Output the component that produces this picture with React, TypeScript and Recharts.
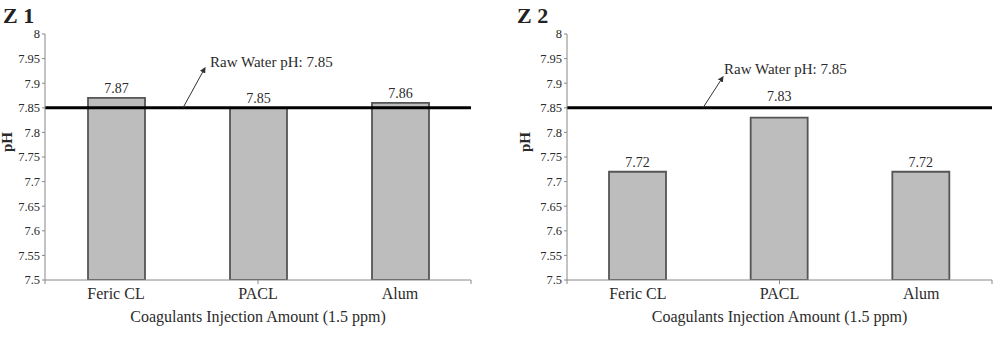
import React from "react"
import { BarChart, Bar, XAxis, YAxis, ReferenceLine, LabelList } from "recharts"

const categories = ["Feric CL", "PACL", "Alum"]
const z1Values = [7.87, 7.85, 7.86]
const z2Values = [7.72, 7.83, 7.72]
const yTicks = [7.5, 7.55, 7.6, 7.65, 7.7, 7.75, 7.8, 7.85, 7.9, 7.95, 8]
const boundaryTicks = [0, 1, 2, 3]
const rawWaterPh = 7.85

const FONT = "Liberation Serif, serif"
const TEXT = "#2b2b2b"

function RawWaterLabel({ viewBox, startX, dx, dy, textDx, textDy, id }: any) {
  if (!viewBox) return null
  const x0 = viewBox.x + startX
  const y0 = viewBox.y
  const x1 = x0 + dx
  const y1 = y0 + dy
  return (
    <g>
      <defs>
        <marker id={id} markerWidth="6" markerHeight="6" refX="5" refY="3" orient="auto">
          <path d="M0,0 L6,3 L0,6 z" fill="#333" />
        </marker>
      </defs>
      <line x1={x0} y1={y0} x2={x1} y2={y1} stroke="#333" strokeWidth={1} markerEnd={`url(#${id})`} />
      <text x={x1 + textDx} y={y1 + textDy} fill={TEXT} fontFamily={FONT} fontSize={15} dominantBaseline="middle">
        Raw Water pH: 7.85
      </text>
    </g>
  )
}

function PhLabel({ viewBox, dx }: any) {
  if (!viewBox) return null
  const x = viewBox.x + dx
  const y = viewBox.y + viewBox.height / 2 - 15
  return (
    <text x={x} y={y} transform={`rotate(-90 ${x} ${y})`} textAnchor="middle" dominantBaseline="middle" fill={TEXT} fontFamily={FONT} fontSize={15} fontWeight="bold">
      pH
    </text>
  )
}

// value label above each bar, lifted above the raw-water line when they would collide
function ValueLabel({ x, y, width, value, lineY }: any) {
  let cy = y - 8
  if (y > lineY && cy - lineY < 9) cy = lineY - 10
  return (
    <text x={x + width / 2} y={cy} textAnchor="middle" dominantBaseline="middle" fill={TEXT} fontFamily={FONT} fontSize={14}>
      {value}
    </text>
  )
}

function EdgeTick({ x, y }: any) {
  return <line x1={x} y1={y} x2={x} y2={y + 4} stroke="#888" />
}

function PhChart({ values, yWidth, right, arrow, id }: any) {
  const data = categories.map((c, i) => ({ name: c, ph: values[i] }))
  const lineY = 34 + ((8 - rawWaterPh) / 0.5) * 246
  return (
    <BarChart width={500} height={338} data={data} margin={{ top: 34, right, left: 0, bottom: 0 }}>
      {/* small marks between categories */}
      <XAxis
        xAxisId="edges"
        type="number"
        domain={[0, 3]}
        ticks={boundaryTicks}
        interval={0}
        allowDataOverflow
        height={1}
        axisLine={false}
        tickLine={false}
        tickSize={0}
        tickMargin={0}
        tick={(p: any) => <EdgeTick x={p.x} y={280} />}
      />
      <XAxis
        dataKey="name"
        height={57}
        axisLine={{ stroke: "#888" }}
        tickLine={false}
        tick={{ fill: TEXT, fontFamily: FONT, fontSize: 16 }}
        tickMargin={2}
        label={{ value: "Coagulants Injection Amount (1.5 ppm)", position: "insideBottom", offset: 15, fill: TEXT, fontFamily: FONT, fontSize: 16 }}
      />
      <YAxis
        width={yWidth}
        domain={[7.5, 8]}
        ticks={yTicks}
        interval={0}
        allowDataOverflow
        axisLine={{ stroke: "#888" }}
        tickLine={{ stroke: "#888" }}
        tickSize={3}
        tickMargin={2}
        tick={{ fill: TEXT, fontFamily: FONT, fontSize: 12.5 }}
        label={<PhLabel dx={yWidth === 45 ? 9 : 27} />}
      />
      <Bar dataKey="ph" barSize={57} fill="#bdbdbd" stroke="#555" strokeWidth={1.8} isAnimationActive={false}>
        <LabelList dataKey="ph" content={(p: any) => <ValueLabel {...p} lineY={lineY} />} />
      </Bar>
      <ReferenceLine y={rawWaterPh} stroke="#000" strokeWidth={3} label={<RawWaterLabel {...arrow} id={id} />} />
    </BarChart>
  )
}

export default function App() {
  return (
    <div style={{ position: "absolute", left: 0, top: 0, width: 1000, height: 338, background: "#fff" }}>
      <div style={{ position: "absolute", left: 3, top: 3, fontFamily: FONT, fontSize: 22, fontWeight: "bold", color: "#222" }}>Z 1</div>
      <div style={{ position: "absolute", left: 517, top: 3, fontFamily: FONT, fontSize: 22, fontWeight: "bold", color: "#222" }}>Z 2</div>
      <div style={{ position: "absolute", left: 0, top: 0 }}>
        <PhChart id="arrZ1" values={z1Values} yWidth={45} right={29} arrow={{ startX: 138, dx: 22, dy: -40, textDx: 5, textDy: -4 }} />
      </div>
      <div style={{ position: "absolute", left: 500, top: 0 }}>
        <PhChart id="arrZ2" values={z2Values} yWidth={67} right={8} arrow={{ startX: 136, dx: 20, dy: -31, textDx: 1, textDy: -6 }} />
      </div>
    </div>
  )
}
